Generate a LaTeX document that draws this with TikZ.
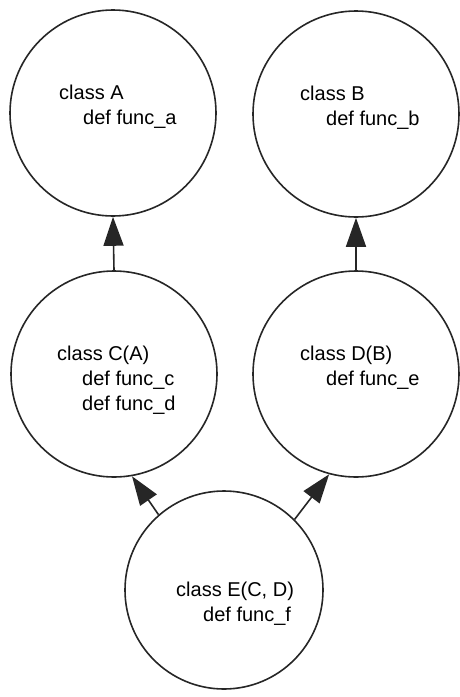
\documentclass[tikz,border=0pt]{standalone}
\usepackage{fontspec}
\setmainfont{Liberation Sans}
\usetikzlibrary{arrows.meta}
\begin{document}
\begin{tikzpicture}[x=1pt,y=-1pt,
  cls/.style={circle, draw=black!85, line width=1.6pt, minimum size=206pt, inner sep=0pt},
  txt/.style={anchor=north west, inner sep=0pt, align=left, font=\fontsize{20}{25}\selectfont},
  inh/.style={draw=black!85, line width=1.6pt, -{Triangle[length=29pt,width=20pt]}}]
\useasboundingbox (0,0) rectangle (459,697);
\node[cls] (A) at (113,113) {};
\node[cls] (B) at (356,114) {};
\node[cls] (C) at (114,374) {};
\node[cls] (D) at (356,374) {};
\node[cls, minimum size=198pt] (E) at (224,590) {};
\node[txt] (Atxt) at (59,85) {class A\\\hspace*{24pt}def func\_a};
\node[txt] (Btxt) at (300,86) {class B\\\hspace*{26pt}def func\_b};
\node[txt] (Ctxt) at (57,346) {class C(A)\\\hspace*{25pt}def func\_c\\\hspace*{25pt}def func\_d};
\node[txt] (Dtxt) at (300,346) {class D(B)\\\hspace*{26pt}def func\_e};
\node[txt] (Etxt) at (176,582) {class E(C, D)\\\hspace*{27pt}def func\_f};
\draw[inh] (C.north) -- (A.south);
\draw[inh] (D.north) -- (B.south);
\draw[inh] (E.131) -- (C.-80);
\draw[inh] (E.45) -- (D.-105);
\end{tikzpicture}
\end{document}
